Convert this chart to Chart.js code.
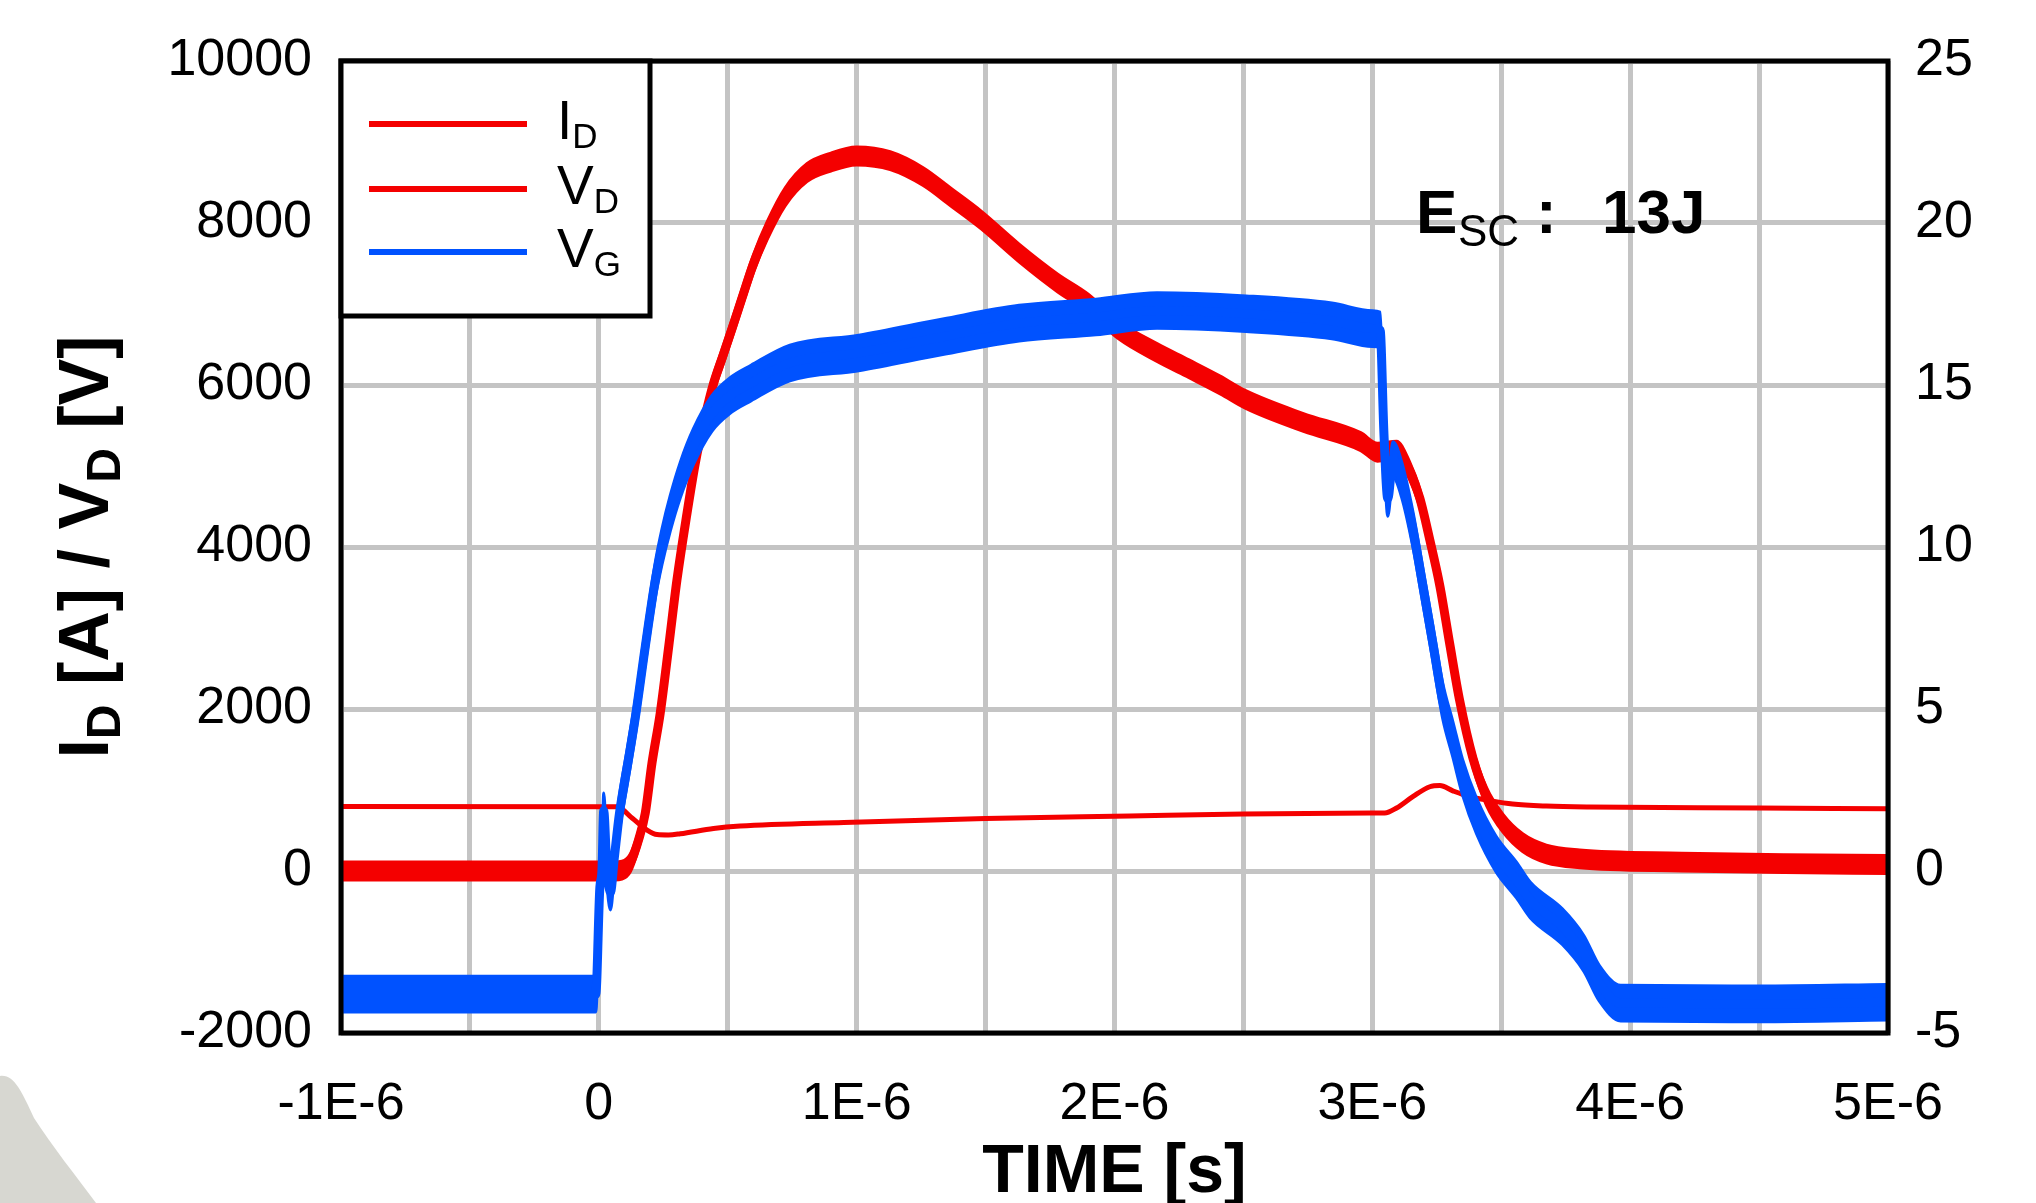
<!DOCTYPE html>
<html>
<head>
<meta charset="utf-8">
<script src="https://cdn.jsdelivr.net/npm/chart.js@4.4.1/dist/chart.umd.min.js"></script>
<style>
  html, body { margin: 0; padding: 0; background: #ffffff; }
  #wrap { width: 2036px; height: 1203px; position: relative; }
  canvas { display: block; }
</style>
</head>
<body>
<div id="wrap"><canvas id="c" width="2036" height="1203"></canvas></div>
<script>
// ---------------- DATA (time in microseconds) ----------------
const idTime = [-1.0, 0.06, 0.09, 0.122, 0.154, 0.18, 0.206, 0.238, 0.271, 0.303, 0.342, 0.374, 0.413, 0.445, 0.478, 0.517, 0.557, 0.6, 0.654, 0.723, 0.807, 0.897, 1.0, 1.13, 1.258, 1.363, 1.483, 1.63, 1.78, 1.898, 2.016, 2.165, 2.289, 2.41, 2.509, 2.733, 2.955, 3.02, 3.094, 3.145, 3.184, 3.223, 3.262, 3.3, 3.339, 3.39, 3.443, 3.506, 3.583, 3.675, 3.804, 4.2, 4.6, 5.0];
const idCurrent = [0, 0, 10, 100, 383, 712, 1330, 1947, 2770, 3593, 4416, 5033, 5620, 6020, 6330, 6700, 7090, 7502, 7913, 8325, 8621, 8749, 8827, 8769, 8572, 8325, 8037, 7630, 7259, 7012, 6679, 6400, 6200, 6000, 5820, 5537, 5301, 5170, 5197, 4938, 4605, 4086, 3518, 2807, 2099, 1395, 918, 592, 350, 210, 150, 110, 90, 80];

const vdTime = [-1.0, 0.07, 0.13, 0.187, 0.226, 0.27, 0.316, 0.445, 0.548, 0.95, 1.5, 2.06, 2.5, 3.0, 3.048, 3.094, 3.157, 3.223, 3.262, 3.312, 3.378, 3.455, 3.544, 3.675, 3.843, 4.5, 5.0];
const vdVolt = [795, 792, 650, 506, 450, 445, 460, 525, 555, 600, 647, 679, 704, 716, 716, 778, 918, 1040, 1055, 990, 918, 870, 827, 802, 790, 778, 768];

const vgTime = [-1.0, -0.012, 0.004, 0.012, 0.019, 0.03, 0.045, 0.06, 0.08, 0.112, 0.144, 0.18, 0.219, 0.245, 0.277, 0.316, 0.367, 0.439, 0.508, 0.59, 0.741, 1.008, 1.334, 1.63, 1.928, 2.165, 2.51, 2.843, 3.0, 3.03, 3.045, 3.06, 3.08, 3.113, 3.157, 3.196, 3.235, 3.273, 3.312, 3.35, 3.404, 3.48, 3.559, 3.613, 3.737, 3.82, 3.88, 3.963, 4.5, 5.0];
const vgVolt = [-3.8, -3.8, -0.5, 0.0, 1.86, 0.3, -0.65, 0.4, 1.78, 3.3, 4.87, 6.92, 8.98, 10.01, 11.04, 12.07, 13.1, 14.13, 14.67, 15.06, 15.68, 15.99, 16.49, 16.91, 17.1, 17.3, 17.2, 16.98, 16.74, 16.7, 13.5, 11.5, 12.7, 12.1, 10.56, 8.8, 7.02, 5.25, 4.07, 2.89, 1.7, 0.52, -0.28, -0.9, -1.72, -2.54, -3.46, -4.08, -4.1, -4.05];

// measured noise half-spread of the scope traces
const idNoise = 110;   // A
const vgNoise = 0.55;  // V

const xTickValues = [-1, 0, 1, 2, 3, 4, 5];
const xTickLabels = ['-1E-6', '0', '1E-6', '2E-6', '3E-6', '4E-6', '5E-6'];
const yLeftTickValues = [-2000, 0, 2000, 4000, 6000, 8000, 10000];
const yLeftTickLabels = ['-2000', '0', '2000', '4000', '6000', '8000', '10000'];
const yRightTickValues = [-5, 0, 5, 10, 15, 20, 25];
const yRightTickLabels = ['-5', '0', '5', '10', '15', '20', '25'];

const legendNames = [['I', 'D'], ['V', 'D'], ['V', 'G']];
const annotation = { main: 'E', sub: 'SC', sep: ':', value: '13J' };

// ---------------- STYLE ----------------
const FONT = '"Liberation Sans", Arial, Helvetica, sans-serif';
const RED = '#f40000';
const BLUE = '#0052ff';
const GRID = '#c4c4c4';

const toPts = (t, v, d) => t.map((x, i) => ({ x: x, y: v[i] + (d || 0) }));
const lookup = (vals, labels) => (v) => {
  const i = vals.findIndex(k => Math.abs(k - v) < 1e-9);
  return i >= 0 ? labels[i] : '';
};

const common = { pointRadius: 0, pointHoverRadius: 0, cubicInterpolationMode: 'monotone', spanGaps: true };

const datasets = [
  // 0..2 : V_G (right axis), drawn on top
  Object.assign({ label: 'VG', data: toPts(vgTime, vgVolt), yAxisID: 'y2', borderColor: BLUE, borderWidth: 9, fill: false, order: 1 }, common),
  Object.assign({ label: 'VG_hi', data: toPts(vgTime, vgVolt, vgNoise), yAxisID: 'y2', borderColor: BLUE, borderWidth: 3, backgroundColor: BLUE, fill: 2, order: 1 }, common),
  Object.assign({ label: 'VG_lo', data: toPts(vgTime, vgVolt, -vgNoise), yAxisID: 'y2', borderColor: BLUE, borderWidth: 3, fill: false, order: 1 }, common),
  // 3..5 : I_D
  Object.assign({ label: 'ID', data: toPts(idTime, idCurrent), yAxisID: 'y', borderColor: RED, borderWidth: 9, fill: false, order: 2 }, common),
  Object.assign({ label: 'ID_hi', data: toPts(idTime, idCurrent, idNoise), yAxisID: 'y', borderColor: RED, borderWidth: 3, backgroundColor: RED, fill: 5, order: 2 }, common),
  Object.assign({ label: 'ID_lo', data: toPts(idTime, idCurrent, -idNoise), yAxisID: 'y', borderColor: RED, borderWidth: 3, fill: false, order: 2 }, common),
  // 6 : V_D
  Object.assign({ label: 'VD', data: toPts(vdTime, vdVolt), yAxisID: 'y', borderColor: RED, borderWidth: 5, fill: false, order: 3 }, common)
];

function drawSubText(ctx, x, y, parts) {
  let cx = x;
  for (const p of parts) {
    ctx.font = p.font;
    ctx.fillText(p.t, cx, y + (p.dy || 0));
    cx += ctx.measureText(p.t).width;
  }
  return cx - x;
}
function measureParts(ctx, parts) {
  let w = 0;
  for (const p of parts) { ctx.font = p.font; w += ctx.measureText(p.t).width; }
  return w;
}

const decor = {
  id: 'decor',
  beforeDraw(chart) {
    const ctx = chart.ctx;
    ctx.save();
    ctx.fillStyle = '#ffffff';
    ctx.fillRect(0, 0, chart.width, chart.height);
    // light grey object in the lower left corner of the photo
    ctx.fillStyle = '#d7d7d1';
    ctx.beginPath();
    ctx.moveTo(0, 1076);
    ctx.bezierCurveTo(14, 1074, 22, 1092, 34, 1118);
    ctx.bezierCurveTo(52, 1146, 76, 1176, 96, 1203);
    ctx.lineTo(0, 1203);
    ctx.closePath();
    ctx.fill();
    ctx.restore();
  },
  afterDatasetsDraw(chart) {
    const ctx = chart.ctx;
    const a = chart.chartArea;
    ctx.save();
    // plot frame
    ctx.strokeStyle = '#000';
    ctx.lineWidth = 5;
    ctx.strokeRect(a.left, a.top, a.right - a.left, a.bottom - a.top);

    // legend box
    const lx = a.left, ly = a.top, lw = 309, lh = 255;
    ctx.fillStyle = '#fff';
    ctx.fillRect(lx, ly, lw, lh);
    ctx.strokeRect(lx, ly, lw, lh);
    const colors = [RED, RED, BLUE];
    const rows = [63, 128, 191];
    ctx.lineWidth = 6;
    ctx.fillStyle = '#000';
    ctx.textBaseline = 'middle';
    ctx.textAlign = 'left';
    rows.forEach((dy, i) => {
      const y = ly + dy;
      ctx.strokeStyle = colors[i];
      ctx.beginPath();
      ctx.moveTo(lx + 28, y);
      ctx.lineTo(lx + 186, y);
      ctx.stroke();
      drawSubText(ctx, lx + 216, y, [
        { t: legendNames[i][0], font: '55px ' + FONT, dy: 0 },
        { t: legendNames[i][1], font: '35px ' + FONT, dy: 14 }
      ]);
    });

    // annotation E_SC : 13J
    ctx.textBaseline = 'alphabetic';
    ctx.font = 'bold 62px ' + FONT;
    ctx.fillText(annotation.main, 1416, 233);
    ctx.font = '44px ' + FONT;
    ctx.fillText(annotation.sub, 1458, 246);
    ctx.font = 'bold 62px ' + FONT;
    ctx.fillText(annotation.sep, 1536, 233);
    ctx.fillText(annotation.value, 1602, 233);

    // x axis title
    ctx.textAlign = 'center';
    ctx.font = 'bold 68px ' + FONT;
    ctx.fillText('TIME [s]', (a.left + a.right) / 2, 1192);

    // y axis title (rotated, with subscripts)
    const parts = [
      { t: 'I', font: 'bold 70px ' + FONT, dy: 0 },
      { t: 'D', font: 'bold 48px ' + FONT, dy: 12 },
      { t: ' [A] / V', font: 'bold 70px ' + FONT, dy: 0 },
      { t: 'D', font: 'bold 48px ' + FONT, dy: 12 },
      { t: ' [V]', font: 'bold 70px ' + FONT, dy: 0 }
    ];
    ctx.textAlign = 'left';
    ctx.translate(108, (a.top + a.bottom) / 2);
    ctx.rotate(-Math.PI / 2);
    const tw = measureParts(ctx, parts);
    drawSubText(ctx, -tw / 2, 0, parts);
    ctx.restore();
  }
};

const tickFont = { family: FONT, size: 52 };

new Chart(document.getElementById('c'), {
  type: 'line',
  data: { datasets: datasets },
  options: {
    responsive: false,
    animation: false,
    devicePixelRatio: 1,
    layout: { padding: { top: 61, left: 0, right: 0, bottom: 0 } },
    plugins: { legend: { display: false }, tooltip: { enabled: false }, title: { display: false } },
    scales: {
      x: {
        type: 'linear', min: -1, max: 5,
        afterFit: (s) => { s.height = 170; },
        afterBuildTicks: (s) => { s.ticks = []; for (let k = 0; k <= 12; k++) s.ticks.push({ value: -1 + k * 0.5 }); },
        grid: { color: GRID, lineWidth: 5, drawTicks: false },
        border: { display: false },
        ticks: { font: tickFont, color: '#000', padding: 40, autoSkip: false, maxRotation: 0, callback: lookup(xTickValues, xTickLabels) }
      },
      y: {
        type: 'linear', position: 'left', min: -2000, max: 10000,
        afterFit: (s) => { s.width = 341; },
        afterBuildTicks: (s) => { s.ticks = yLeftTickValues.map(v => ({ value: v })); },
        grid: { color: GRID, lineWidth: 5, drawTicks: false },
        border: { display: false },
        ticks: { font: tickFont, color: '#000', padding: 29, callback: lookup(yLeftTickValues, yLeftTickLabels) }
      },
      y2: {
        type: 'linear', position: 'right', min: -5, max: 25,
        afterFit: (s) => { s.width = 148; },
        afterBuildTicks: (s) => { s.ticks = yRightTickValues.map(v => ({ value: v })); },
        grid: { display: false, drawTicks: false },
        border: { display: false },
        ticks: { font: tickFont, color: '#000', padding: 27, callback: lookup(yRightTickValues, yRightTickLabels) }
      }
    }
  },
  plugins: [decor]
});
</script>
</body>
</html>
